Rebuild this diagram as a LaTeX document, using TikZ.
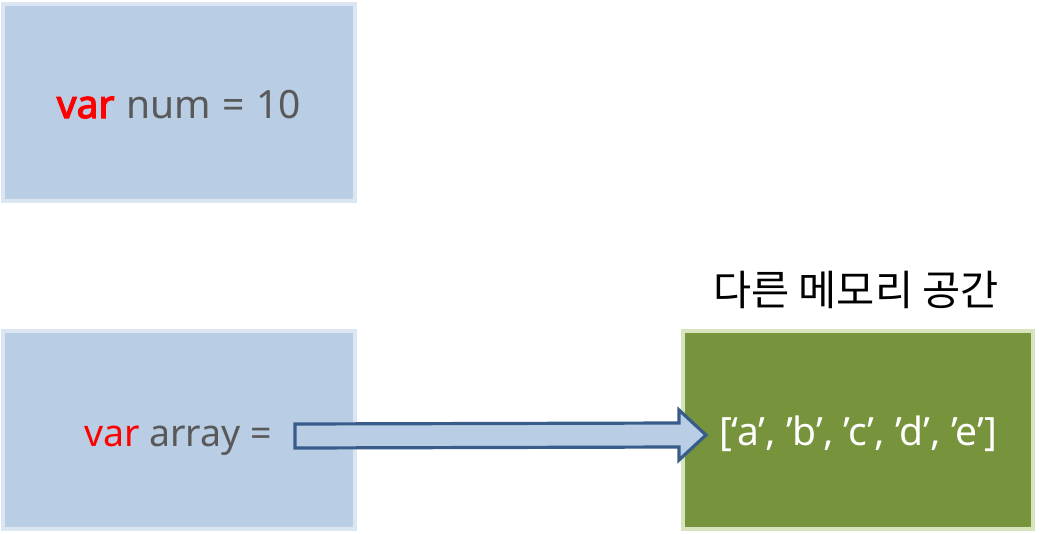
\documentclass[tikz,border=0pt]{standalone}
\usepackage{fontspec}
\setmainfont{Noto Sans}
\newfontfamily\kwbold{Noto Sans}[FakeBold=3]
\newfontfamily\krfont{Noto Sans CJK KR}
\usetikzlibrary{calc}
\definecolor{boxblue}{RGB}{185,205,229}
\definecolor{boxblueline}{RGB}{220,230,242}
\definecolor{memgreen}{RGB}{119,147,60}
\definecolor{memgreenline}{RGB}{215,228,189}
\definecolor{arrowline}{RGB}{56,93,138}
\definecolor{codegray}{RGB}{89,89,89}
\definecolor{keyred}{RGB}{255,0,0}
\newcommand{\gap}{\hspace{0.3em}}
\begin{document}
\begin{tikzpicture}[x=1pt,y=1pt,yscale=-1,xscale=1,
    varbox/.style={draw=boxblueline,fill=boxblue,line width=4pt,minimum width=352pt,inner sep=0pt,
        font=\fontsize{39}{46}\selectfont,text=codegray},
    membox/.style={draw=memgreenline,fill=memgreen,line width=4pt,minimum width=350pt,minimum height=198pt,inner sep=0pt,
        font=\fontsize{39}{46}\selectfont,text=white},
    blockarrow/.style={draw=arrowline,fill=boxblue,line width=3.2pt,line join=miter}]
    \useasboundingbox (0,0) rectangle (1059,533);
    %Shape: Rectangle [num]
    \node [varbox,minimum height=197pt,text height=31pt,text depth=0pt] (numbox) at (179,102.5)
        {\textcolor{keyred}{\kwbold var}\gap num\gap=\gap 10};
    %Shape: Rectangle [array]
    \node [varbox,minimum height=198pt,font=\fontsize{37.5}{44}\selectfont,text height=40pt,text depth=8pt] (arraybox) at (179,430)
        {\hspace{-2pt}\textcolor{keyred}{var} array =};
    %Shape: Rectangle [memory]
    \node [membox,text height=40pt,text depth=9pt] (membox) at (858,430) {[‘a’, ’b’, ’c’, ’d’, ’e’]};

    % Text Node
    \node [inner sep=0pt,font=\krfont\fontsize{41.5}{48}\selectfont] (memlabel) at (856,290) {다른 메모리 공간};

    %Block Arrow
    \coordinate (arrtail) at (295,436);
    \path (membox.west) ++(25,5) coordinate (arrtip);
    \draw [blockarrow] ($(arrtail)+(0,-12)$) -- ($(arrtip)+(-27,-12)$) -- ($(arrtip)+(-27,-25)$) -- (arrtip)
        -- ($(arrtip)+(-27,25)$) -- ($(arrtip)+(-27,12)$) -- ($(arrtail)+(0,12)$) -- cycle ;
\end{tikzpicture}
\end{document}
